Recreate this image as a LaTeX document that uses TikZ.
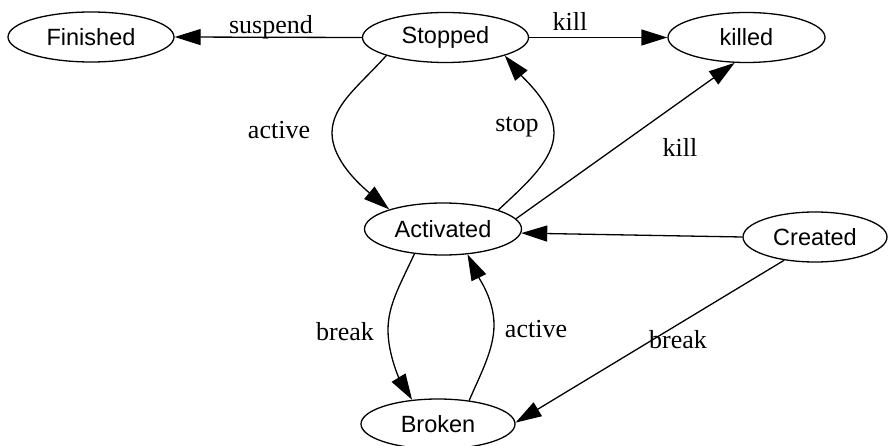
\documentclass[tikz,border=0pt]{standalone}
\usepackage{fontspec}
\setmainfont{Liberation Serif}
\newfontfamily\nodefont{Liberation Sans}
\usetikzlibrary{shapes.geometric,arrows.meta}
\tikzset{
  state/.style={ellipse, draw, line width=1.3pt, inner sep=0pt,
    minimum height=50pt, font=\nodefont\fontsize{23.5}{28}\selectfont},
  lbl/.style={anchor=base, inner sep=0pt, font=\fontsize{26}{30}\selectfont},
  edge/.style={line width=1.3pt, -{Triangle[length=26pt,width=16pt]}},
}
\begin{document}
\begin{tikzpicture}[x=1pt,y=-1pt]
\useasboundingbox[fill=white] (0,0) rectangle (888,446);
\node[state, minimum width=166pt] (fin) at (91,37) {Finished};
\node[state, minimum width=166pt] (stop) at (445.5,37.5) {Stopped};
\node[state, minimum width=157pt] (kil) at (746.5,37.5) {killed};
\node[state, minimum width=157pt, minimum height=52pt] (act) at (443,229) {Activated};
\node[state, minimum width=144pt] (cre) at (815,237) {Created};
\node[state, minimum width=154pt] (brk) at (438,424) {Broken};

\draw[edge] (stop.180) -- (fin.0);
\draw[edge] (stop.0) -- (kil.180);
\draw[edge] (stop.197) .. controls (360,85) and (332,105) .. (332,133)
  .. controls (332,160) and (360,185) .. (act.160);
\draw[edge] (act.19) .. controls (525,185) and (554,160) .. (554,133)
  .. controls (554,105) and (525,80) .. (stop.343);
\draw[edge] (act.8) -- (kil.245);
\draw[edge] (cre.180) -- (act.357);
\draw[edge] (cre.217) -- (brk.1);
\draw[edge] (act.221) .. controls (400,285) and (388,305) .. (388,330)
  .. controls (388,355) and (400,380) .. (brk.137);
\draw[edge] (brk.37) .. controls (480,375) and (494,350) .. (494,325)
  .. controls (494,300) and (480,280) .. (act.314);

\node[lbl] (l1) at (271,34) {suspend};
\node[lbl] (l2) at (570,31) {kill};
\node[lbl] (l3) at (279,139) {active};
\node[lbl] (l4) at (517,132) {stop};
\node[lbl] (l5) at (680,157) {kill};
\node[lbl] (l6) at (345,340) {break};
\node[lbl] (l7) at (536,337) {active};
\node[lbl] (l8) at (678,348) {break};
\end{tikzpicture}
\end{document}
